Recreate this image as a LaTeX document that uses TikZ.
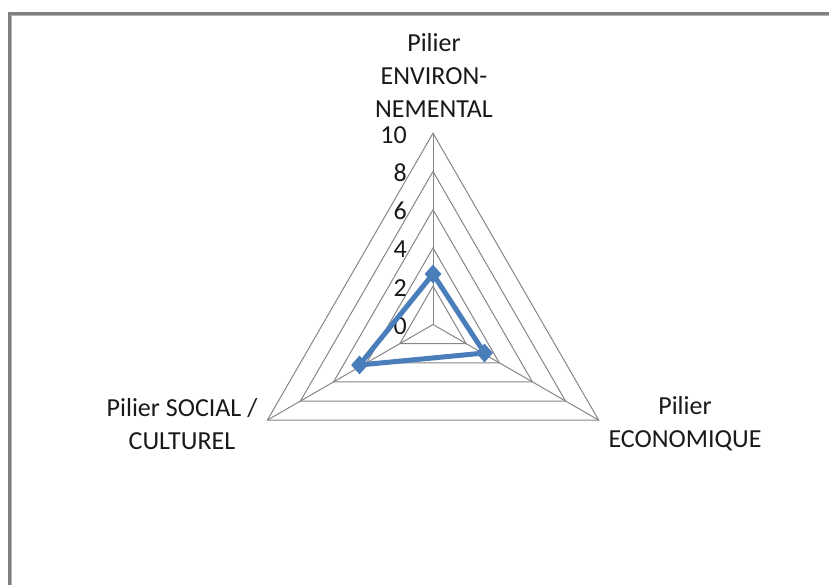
\documentclass[tikz,border=0pt]{standalone}
\usepackage{fontspec}
\setmainfont{Carlito}
\usetikzlibrary{calc,shapes.geometric}
\definecolor{gridgray}{RGB}{134,134,134}
\definecolor{framegray}{RGB}{128,128,128}
\definecolor{series}{RGB}{74,126,187}
\begin{document}
\begin{tikzpicture}[x=1pt,y=-1pt,
  gridline/.style={draw=gridgray,line width=1pt},
  axlabel/.style={font=\fontsize{26}{33}\selectfont,text=black!90,inner sep=0pt,align=center},
  ticklabel/.style={font=\fontsize{26}{33}\selectfont,text=black!90,inner sep=0pt,anchor=east},
  datamark/.style={fill=series,draw=none,diamond,minimum width=17pt,minimum height=19pt,inner sep=0pt}]
\useasboundingbox (0,0) rectangle (829,585);
\begin{scope}
\clip (0,0) rectangle (829,585);
\draw[framegray,line width=2.5pt] (9.5,13.5) rectangle (850,600);
\draw[black!30,line width=1pt] (11.5,15.5) rectangle (850,600);
\end{scope}
% center and radius
\coordinate (c) at (433,324.5);
\def\R{191.3}
% rings
\foreach \k in {1,...,5}{
  \draw[gridline] ($(c)+(90:-\k*\R/5)$) -- ($(c)+(-150:-\k*\R/5)$) -- ($(c)+(-30:-\k*\R/5)$) -- cycle;
}
\coordinate (top) at ($(c)+(0,-\R)$);
\coordinate (bl) at ($(c)+(-165.7,95.65)$);
\coordinate (br) at ($(c)+(165.7,95.65)$);
\draw[gridline] (c) -- (top);
\draw[gridline] (c) -- (bl);
\draw[gridline] (c) -- (br);
% tick labels
\foreach \v/\yy in {0/326,2/288,4/249,6/211,8/173,10/135}{
  \node[ticklabel] (t\v) at (407,\yy) {\v};
}
% axis labels
\node[axlabel] (lenv) at (434,75) {Pilier\\ENVIRON-\\NEMENTAL};
\node[axlabel] (lsoc) at (182,424) {Pilier SOCIAL /\\CULTUREL};
\node[axlabel] (leco) at (685,424) {Pilier\\ECONOMIQUE};
% data
\coordinate (d1) at (433,274);
\coordinate (d2) at (484.5,353);
\coordinate (d3) at (359.5,365);
\draw[series,line width=5pt,line join=round] (d1) -- (d2) -- (d3) -- cycle;
\node[datamark] (m1) at (d1) {};
\node[datamark] (m2) at (d2) {};
\node[datamark] (m3) at (d3) {};
\end{tikzpicture}
\end{document}
